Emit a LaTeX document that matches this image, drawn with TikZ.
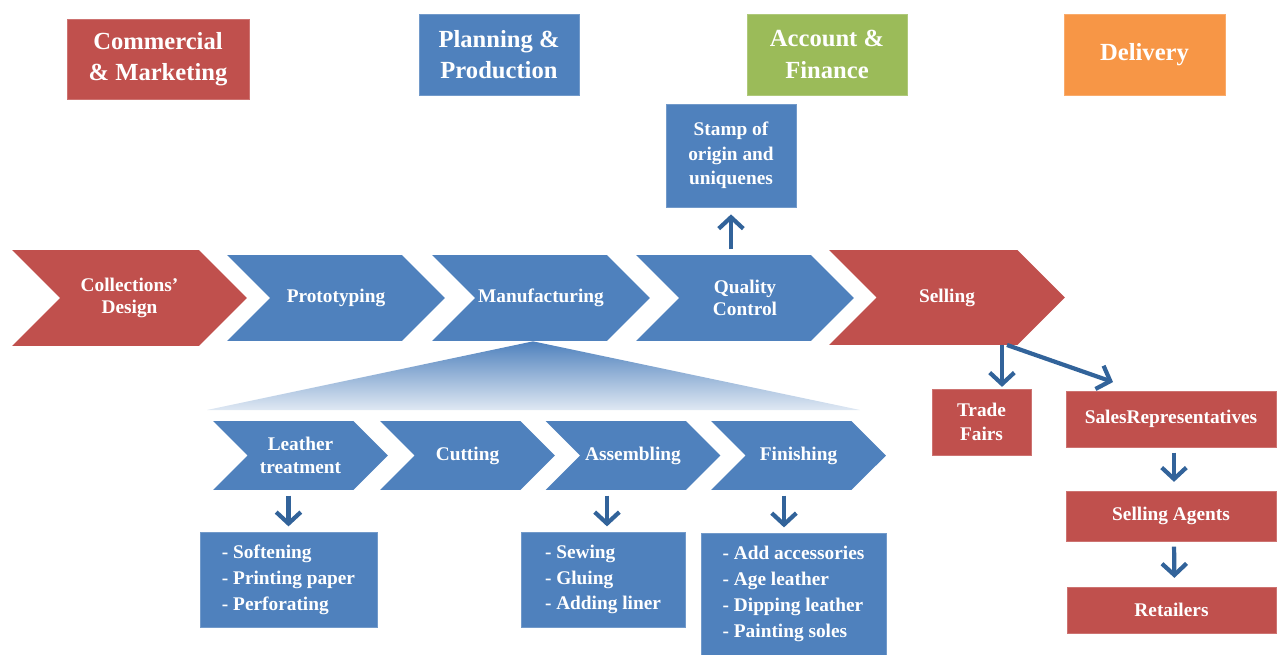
\documentclass[tikz,border=0pt]{standalone}
\usepackage{fontspec}
\setmainfont{Liberation Serif}
\usetikzlibrary{arrows.meta, shapes.symbols}

\definecolor{cred}{HTML}{C0504D}
\definecolor{cblue}{HTML}{4F81BD}
\definecolor{cgreen}{HTML}{9BBB59}
\definecolor{corange}{HTML}{F79646}
\definecolor{carrow}{HTML}{32639A}

\begin{document}
\begin{tikzpicture}[x=0.02cm, y=-0.02cm,
  box/.style={rectangle, fill=#1, draw=#1!80!white, text=white, font=\bfseries\fontsize{11}{14}\selectfont, align=center, inner sep=2pt},
  dept/.style={box=#1, font=\bfseries\fontsize{14}{18}\selectfont, minimum width=3.2cm, minimum height=1.62cm},
  chev/.style={signal, signal from=west, signal to=east, signal pointer angle=90, fill=#1, text=white, font=\bfseries\fontsize{11}{12.5}\selectfont, align=center, inner sep=0pt},
  bigchev/.style={chev=cblue, minimum width=4.36cm, minimum height=1.72cm},
  subchev/.style={chev=cblue, minimum width=3.5cm, minimum height=1.38cm, font=\bfseries\fontsize{11}{13}\selectfont},
  steplist/.style={box=cblue, align=left, font=\bfseries\fontsize{11}{14.7}\selectfont},
  arr/.style={-{Straight Barb[length=6.5pt, width=14pt]}, draw=carrow, line width=2.4pt},
]
\useasboundingbox (0,0) rectangle (1277,655);

% departments
\node[dept=cred, minimum width=3.64cm, minimum height=1.6cm] (com) at (158,59) {Commercial\\\& Marketing};
\node[dept=cblue]   (plan) at (499,54.5)    {Planning \&\\Production};
\node[dept=cgreen]  (acc)  at (827,54.5)    {Account \&\\Finance};
\node[dept=corange, minimum width=3.22cm] (del) at (1144.5,54.5) {Delivery};

% main chain
\node[chev=cred, minimum width=4.7cm, minimum height=1.92cm] (design) at (129.5,298) {Collections'\\Design};
\node[bigchev] (proto) at (336,298) {Prototyping};
\node[bigchev] (manuf) at (541,298) {Manufacturing};
\node[bigchev] (qc)    at (745,298) {Quality\\Control};
\node[chev=cred, minimum width=4.72cm, minimum height=1.9cm] (sell) at (947,297.5) {Selling};

\node[box=cblue, minimum width=2.6cm, minimum height=2.06cm] (stamp) at (731,155.5) {Stamp of\\origin and\\uniquenes};
\draw[arr, shorten <=3pt, shorten >=4pt] (stamp.south |- qc.north) -- (stamp.south);

% manufacturing steps
\shade[top color=cblue, bottom color=cblue!18!white] (manuf.south -| 533,0) -- (860,410) -- (207,410) -- cycle;
\node[subchev] (leather) at (300.5,455.5) {Leather\\treatment};
\node[subchev] (cut)     at (467.5,455.5) {Cutting};
\node[subchev] (assem)   at (633,455.5)   {Assembling};
\node[subchev] (fin)     at (798.5,455.5) {Finishing};

\node[steplist, minimum width=3.54cm, minimum height=1.9cm]  (lista) at (288.5,579.5) {- Softening\\- Printing paper\\- Perforating};
\node[steplist, minimum width=3.28cm, minimum height=1.9cm]  (listb) at (603,579.5)   {- Sewing\\- Gluing\\- Adding liner};
\node[steplist, minimum width=3.7cm, minimum height=2.44cm]  (listc) at (793.5,594)   {- Add accessories\\- Age leather\\- Dipping leather\\- Painting soles};

\draw[arr, shorten <=3pt, shorten >=3pt] (lista.north |- leather.south) -- (lista.north);
\draw[arr, shorten <=3pt, shorten >=3pt] ([xshift=0.08cm]listb.north |- assem.south) -- ([xshift=0.08cm]listb.north);
\draw[arr, shorten <=3pt, shorten >=3pt] ([xshift=-0.19cm]listc.north |- fin.south) -- ([xshift=-0.19cm]listc.north);

% selling channels
\node[box=cred, minimum width=1.98cm, minimum height=1.32cm] (fairs) at (981.5,422) {Trade\\Fairs};
\node[box=cred, minimum width=4.2cm, minimum height=1.12cm]  (reps)   at (1171,419)   {SalesRepresentatives};
\node[box=cred, minimum width=4.2cm, minimum height=1.0cm]   (agents) at (1171,516)   {Selling Agents};
\node[box=cred, minimum width=4.18cm, minimum height=0.92cm] (retail) at (1171.5,610) {Retailers};

\coordinate (sellout) at (1002,345);
\draw[arr, shorten >=1pt] (sellout) -- (sellout |- fairs.north);
\draw[arr, shorten >=1pt] ([xshift=0.1cm]sellout) -- ([xshift=0.98cm, yshift=0.16cm]reps.north west);
\draw[arr, shorten <=3pt, shorten >=5pt] ([xshift=0.06cm]reps.south) -- ([xshift=0.06cm]agents.north);
\draw[arr, shorten <=3pt, shorten >=5pt] ([xshift=0.06cm]agents.south) -- ([xshift=0.06cm]retail.north);
\end{tikzpicture}
\end{document}
